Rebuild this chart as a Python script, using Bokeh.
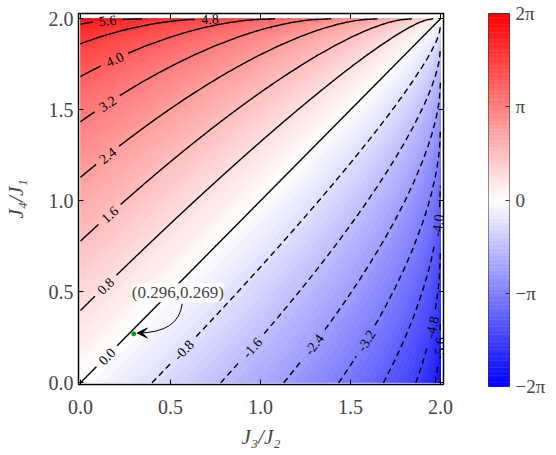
import numpy as np
from bokeh.plotting import figure
from bokeh.plotting.contour import contour_data
from bokeh.layouts import row
from bokeh.models import (ColumnDataSource, FixedTicker, Range1d, Arrow, VeeHead, Label,
                          LinearAxis, PrintfTickFormatter)
from bokeh.core.properties import value
from bokeh.embed import file_html
from bokeh.resources import INLINE

# ---------------- data ----------------
# coupling ratio samples (shared by J3/J2 and J4/J1) and the phase profile
# read along the plot edges (where the labelled contours meet the axes)
ratio_samples = [0.00, 0.05, 0.10, 0.15, 0.20, 0.25, 0.30, 0.35, 0.40, 0.45,
                 0.50, 0.55, 0.60, 0.65, 0.70, 0.75, 0.80, 0.85, 0.90, 0.95,
                 1.00, 1.05, 1.10, 1.15, 1.20, 1.25, 1.30, 1.35, 1.40, 1.45,
                 1.50, 1.55, 1.60, 1.65, 1.70, 1.75, 1.80, 1.85, 1.90, 1.93,
                 1.95, 1.97, 1.98, 1.99, 1.995, 2.00]
phase_samples = [0.0000, 0.1000, 0.2001, 0.3003, 0.4007, 0.5013, 0.6023, 0.7036, 0.8054, 0.9078,
                 1.0107, 1.1144, 1.2188, 1.3240, 1.4303, 1.5376, 1.6461, 1.7558, 1.8671, 1.9799,
                 2.0944, 2.2109, 2.3295, 2.4504, 2.5740, 2.7005, 2.8303, 2.9639, 3.1016, 3.2441,
                 3.3922, 3.5469, 3.7092, 3.8808, 4.0639, 4.2618, 4.4791, 4.7241, 5.0129, 5.2218,
                 5.3869, 5.5895, 5.7170, 5.8830, 6.0003, 6.2832]

line_levels = [-5.6, -4.8, -4.0, -3.2, -2.4, -1.6, -0.8, 0.0, 0.8, 1.6, 2.4, 3.2, 4.0, 4.8, 5.6]
label_spot_x = [1.99, 1.96, 1.98, 1.59, 1.295, 0.93, 0.555, 0.135, 0.13, 0.15, 0.15, 0.15, 0.19, 0.72, 0.15]
label_spot_y = [0.19, 0.305, 0.865, 0.23, 0.215, 0.215, 0.195, 0.16, 0.545, 0.935, 1.25, 1.535, 1.78, 1.995, 1.985]

axis_ticks = [0.0, 0.5, 1.0, 1.5, 2.0]
cbar_ticks = [-2, -1, 0, 1, 2]          # in units of pi
cbar_labels = ["\u22122\u03c0", "\u2212\u03c0", "0", "\u03c0", "2\u03c0"]

marked_x = 0.296
marked_y = 0.269
marked_text = "(0.296,0.269)"

# ---------------- layout ----------------
FRAME_W, FRAME_H = 365, 371
X0, X1 = -0.011, 2.017
Y0, Y1 = -0.0093, 2.029
SX = FRAME_W / (X1 - X0)
SY = FRAME_H / (Y1 - Y0)
SERIF = "Liberation Serif"
MAIN_L, MAIN_R, MAIN_T, MAIN_B = 78, 10, 13, 71
MAIN_W = MAIN_L + FRAME_W + MAIN_R          # 453
TOTAL_W = 556

TWO_PI = 2 * np.pi


def bwr(t):
    t = min(max(t, 0.0), 1.0)
    if t < 0.5:
        r = g = 2 * t
        b = 1.0
    else:
        r = 1.0
        g = b = 2 * (1 - t)
    return "#%02x%02x%02x" % (int(round(r * 255)), int(round(g * 255)), int(round(b * 255)))


n_bands = 100
fill_levels = np.linspace(-TWO_PI, TWO_PI, n_bands + 1)
fill_levels[0] -= 1e-6
fill_levels[-1] += 1e-6
band_colors = [bwr((0.5 * (fill_levels[i] + fill_levels[i + 1]) + TWO_PI) / (2 * TWO_PI))
               for i in range(n_bands)]

r = np.asarray(ratio_samples, float)
g = np.asarray(phase_samples, float)
Z = np.subtract.outer(g, g)   # rows: J4/J1, cols: J3/J2

p = figure(frame_width=FRAME_W, frame_height=FRAME_H,
           x_range=Range1d(X0, X1), y_range=Range1d(Y0, Y1),
           output_backend="svg", toolbar_location=None,
           min_border_left=MAIN_L, min_border_right=MAIN_R,
           min_border_top=MAIN_T, min_border_bottom=MAIN_B,
           background_fill_color="white", border_fill_color="white")
p.grid.visible = False
p.outline_line_color = "black"
p.outline_line_width = 1.5

# ---- filled bands
cd = contour_data(r, r, Z, fill_levels, want_line=False)
fd = cd.fill_data
fx, fy, fc = [], [], []
for xs_l, ys_l, lo in zip(fd.xs, fd.ys, fd.lower_levels):
    if xs_l is None or len(xs_l) == 0:
        continue
    idx = int(np.argmin(np.abs(fill_levels[:-1] - lo)))
    fx.append(xs_l)
    fy.append(ys_l)
    fc.append(band_colors[idx])
p.multi_polygons(xs="xs", ys="ys", fill_color="c", line_color="c", line_width=0.7,
                 source=ColumnDataSource(dict(xs=fx, ys=fy, c=fc)))

# ---- contour lines with inline labels
ld = contour_data(r, r, Z, line_levels, want_fill=False).line_data


def to_polylines(xa, ya):
    res = []
    if isinstance(xa, (list, tuple)):
        for a, b in zip(xa, ya):
            res += to_polylines(a, b)
        return res
    xa = np.asarray(xa, float)
    ya = np.asarray(ya, float)
    if xa.size < 2:
        return res
    bad = np.isnan(xa) | np.isnan(ya)
    start = 0
    for k in list(np.where(bad)[0]) + [xa.size]:
        if k - start >= 2:
            res.append((xa[start:k], ya[start:k]))
        start = k + 1
    return res


def densify(x, y):
    X, Y = [x[0]], [y[0]]
    for k in range(1, len(x)):
        d = np.hypot((x[k] - x[k - 1]) * SX, (y[k] - y[k - 1]) * SY)
        n = max(1, int(np.ceil(d)))
        s = np.arange(1, n + 1) / n
        X.extend(x[k - 1] + (x[k] - x[k - 1]) * s)
        Y.extend(y[k - 1] + (y[k] - y[k - 1]) * s)
    return np.array(X), np.array(Y)


solid_x, solid_y, dash_x, dash_y = [], [], [], []
lab_x, lab_y, lab_t, lab_a = [], [], [], []
LAB_FS = 14
for i, lev in enumerate(line_levels):
    k = int(np.argmin(np.abs(np.asarray(ld.levels, float) - lev)))
    pls = [densify(a, b) for a, b in to_polylines(ld.xs[k], ld.ys[k])]
    if not pls:
        continue
    txt = "%.1f" % lev
    sxp, syp = label_spot_x[i], label_spot_y[i]
    best = None
    for j, (a, b) in enumerate(pls):
        d = np.hypot((a - sxp) * SX, (b - syp) * SY)
        m = int(np.argmin(d))
        if best is None or d[m] < best[0]:
            best = (d[m], j, m)
    _, j, m = best
    a, b = pls[j]
    lo, hi = max(0, m - 6), min(len(a) - 1, m + 6)
    ang = np.arctan2((b[hi] - b[lo]) * SY, (a[hi] - a[lo]) * SX)
    if ang > np.pi / 2:
        ang -= np.pi
    if ang < -np.pi / 2:
        ang += np.pi
    cx, cy = a[m], b[m]
    lab_x.append(cx)
    lab_y.append(cy)
    lab_t.append(txt)
    lab_a.append(ang)
    rad = 0.5 * len(txt) * 0.5 * LAB_FS + 4
    pieces = []
    for jj, (a2, b2) in enumerate(pls):
        if jj != j:
            pieces.append((a2, b2))
            continue
        keep = np.hypot((a2 - cx) * SX, (b2 - cy) * SY) > rad
        start = None
        for q in range(len(a2) + 1):
            if q < len(a2) and keep[q]:
                if start is None:
                    start = q
            else:
                if start is not None and q - start >= 2:
                    pieces.append((a2[start:q], b2[start:q]))
                start = None
    for a2, b2 in pieces:
        if lev < 0:
            dash_x.append(list(a2)); dash_y.append(list(b2))
        else:
            solid_x.append(list(a2)); solid_y.append(list(b2))

p.multi_line(xs=solid_x, ys=solid_y, line_color="black", line_width=1.4)
p.multi_line(xs=dash_x, ys=dash_y, line_color="black", line_width=1.4, line_dash="6 4")
p.text(x=lab_x, y=lab_y, text=lab_t, angle=lab_a, text_align="center", text_baseline="middle",
       text_font=value(SERIF), text_font_size="%dpx" % LAB_FS, text_color="black")

# ---- marked point and annotation
def off(dxp, dyp):
    return marked_x + dxp / SX, marked_y + dyp / SY

p0 = off(48.4, 30)
c0 = off(45, 1)
p1 = off(3.6, 0.8)
p.quadratic(x0=[p0[0]], y0=[p0[1]], x1=[p1[0]], y1=[p1[1]], cx=[c0[0]], cy=[c0[1]],
            line_color="black", line_width=1)
p.add_layout(Arrow(end=VeeHead(size=10, fill_color="black", line_color="black", line_width=1),
                   x_start=c0[0], y_start=c0[1], x_end=p1[0], y_end=p1[1], line_alpha=0))
p.scatter([marked_x], [marked_y], size=4, color="#00a000")
p.add_layout(Label(x=marked_x, y=marked_y, x_offset=44, y_offset=41, text=marked_text,
                   text_align="center", text_baseline="middle", text_font=SERIF,
                   text_font_size="17px", background_fill_color="white"))

# ---- axes
for ax in (p.xaxis[0], p.yaxis[0]):
    ax.ticker = FixedTicker(ticks=axis_ticks)
    ax.formatter = PrintfTickFormatter(format="%.1f")
    ax.major_tick_in = 5
    ax.major_tick_out = 0
    ax.minor_tick_line_color = None
    ax.axis_line_color = None
    ax.major_label_text_font = SERIF
    ax.major_label_text_font_size = "20px"
    ax.axis_label_text_font = SERIF
    ax.axis_label_text_font_style = "italic"
    ax.axis_label_text_font_size = "21px"
p.xaxis[0].axis_label = "J\u2083/J\u2082"
p.yaxis[0].axis_label = "J\u2084/J\u2081"
p.xaxis[0].major_label_standoff = 15
p.yaxis[0].major_label_standoff = 5
p.xaxis[0].axis_label_standoff = 8
p.yaxis[0].axis_label_standoff = 18

# inward ticks on the top and right sides (no labels)
for loc in ("above", "right"):
    ax = LinearAxis(ticker=FixedTicker(ticks=axis_ticks), major_label_text_font_size="1px",
                    major_label_text_color=None, major_tick_in=5, major_tick_out=0,
                    axis_line_color=None, minor_tick_line_color=None, major_label_standoff=0)
    p.add_layout(ax, loc)

# ---- colour bar (separate narrow panel to the right)
CB_LEFT_GAP = 488 - MAIN_W
CB_W, CB_H = 21, 373
cbf = figure(frame_width=CB_W, frame_height=CB_H,
             x_range=Range1d(0, 1), y_range=Range1d(cbar_ticks[0], cbar_ticks[-1]),
             output_backend="svg", toolbar_location=None,
             x_axis_location=None, y_axis_location="right",
             min_border_left=CB_LEFT_GAP, min_border_right=TOTAL_W - MAIN_W - CB_LEFT_GAP - CB_W,
             min_border_top=11, min_border_bottom=71,
             background_fill_color="white", border_fill_color="white")
cbf.grid.visible = False
edges = fill_levels / np.pi
cbf.quad(left=0, right=1, bottom=edges[:-1], top=edges[1:],
         fill_color=band_colors, line_color=band_colors, line_width=0.5)
cbf.outline_line_color = "#333333"
cbf.outline_line_width = 1
ya = cbf.yaxis[0]
ya.ticker = FixedTicker(ticks=cbar_ticks)
ya.major_label_overrides = dict(zip(cbar_ticks, cbar_labels))
ya.major_tick_in = 4
ya.major_tick_out = 0
ya.major_tick_line_color = "#333333"
ya.minor_tick_line_color = None
ya.axis_line_color = None
ya.major_label_standoff = 6
ya.major_label_text_font = SERIF
ya.major_label_text_font_size = "19px"

layout = row(p, cbf, spacing=0)
open("out.html", "w").write(file_html(layout, INLINE))
